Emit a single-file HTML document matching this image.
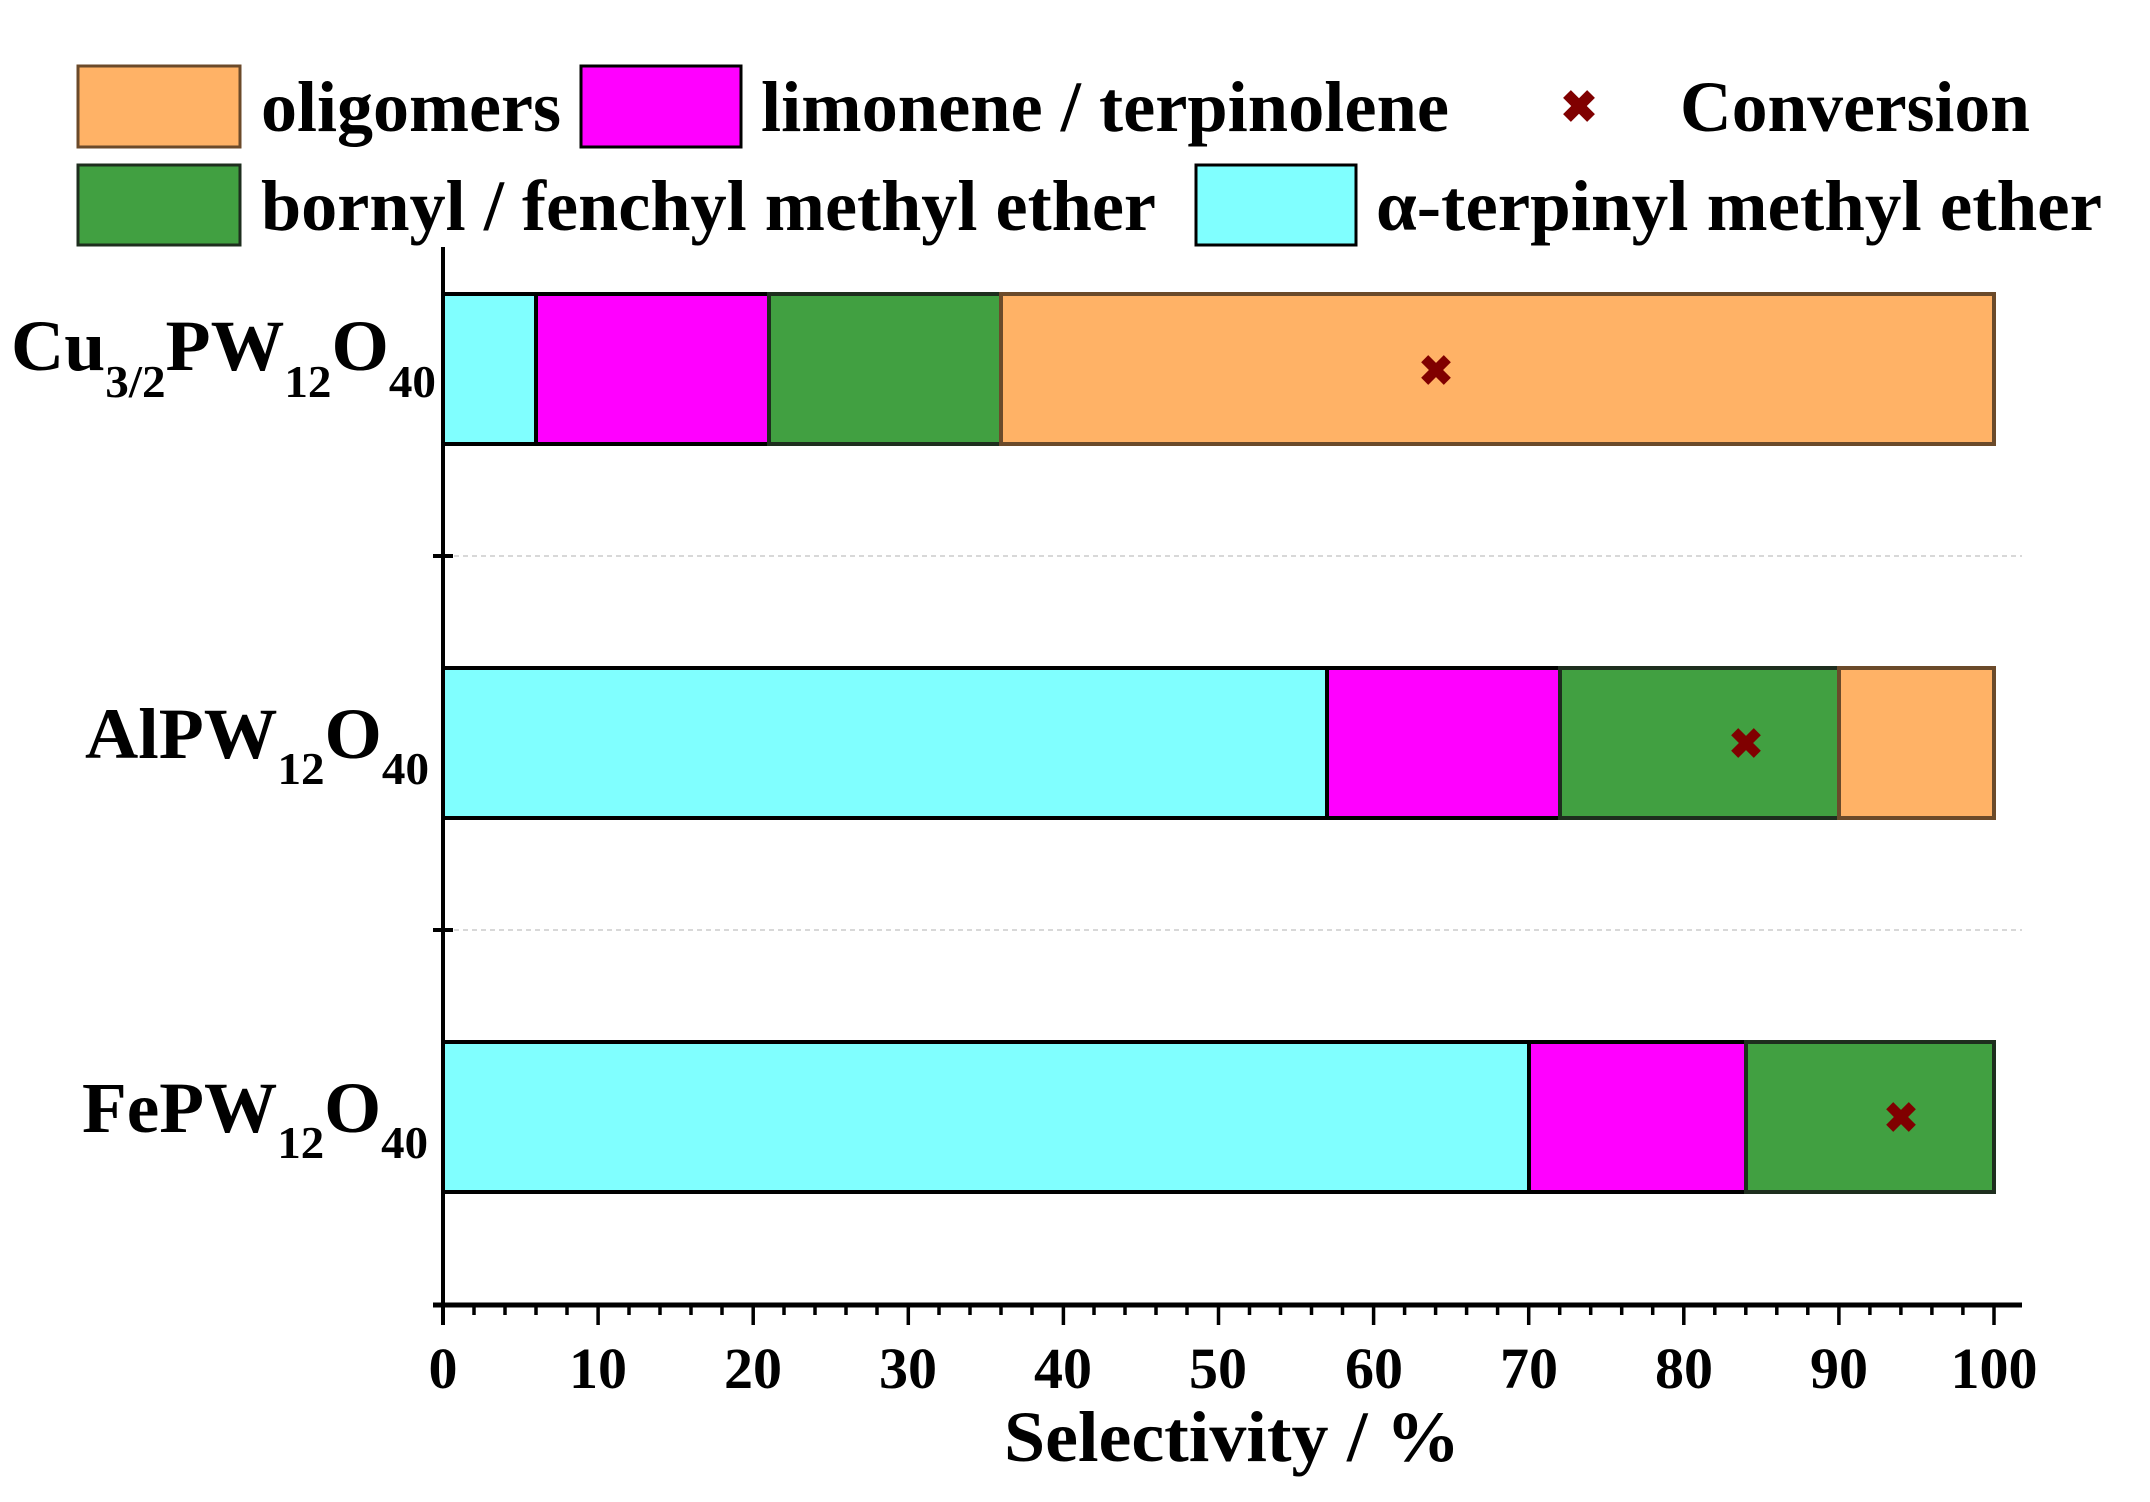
<!DOCTYPE html>
<html><head><meta charset="utf-8"><style>
html,body{margin:0;padding:0;background:#fff}
svg{display:block}
text{font-family:"Liberation Serif",serif;font-weight:bold;fill:#000}
</style></head><body>
<svg width="2150" height="1502" viewBox="0 0 2150 1502" xmlns="http://www.w3.org/2000/svg">
<!-- legend -->
<rect x="78" y="66" width="162" height="81" fill="#ffb266" stroke="#6b4a2a" stroke-width="3"/>
<text x="261" y="131" font-size="72" textLength="300" lengthAdjust="spacingAndGlyphs">oligomers</text>
<rect x="581" y="66" width="160" height="81" fill="#ff00ff" stroke="#000" stroke-width="3"/>
<text x="761" y="131" font-size="72" textLength="688" lengthAdjust="spacingAndGlyphs">limonene / terpinolene</text>
<g transform="translate(1579,106)" fill="#800000"><rect x="-17" y="-5.5" width="34" height="11" transform="rotate(45)"/><rect x="-17" y="-5.5" width="34" height="11" transform="rotate(-45)"/></g>
<text x="1680" y="131" font-size="72" textLength="350" lengthAdjust="spacingAndGlyphs">Conversion</text>
<rect x="78" y="165" width="162" height="80" fill="#41a041" stroke="#1e2e1e" stroke-width="3"/>
<text x="261" y="230" font-size="72" textLength="895" lengthAdjust="spacingAndGlyphs">bornyl / fenchyl methyl ether</text>
<rect x="1196" y="165" width="160" height="80" fill="#80ffff" stroke="#000" stroke-width="3"/>
<text x="1376" y="230" font-size="72" textLength="726" lengthAdjust="spacingAndGlyphs">α-terpinyl methyl ether</text>

<!-- grid separators -->
<line x1="445" y1="556" x2="2022" y2="556" stroke="#ccc" stroke-width="1.5" stroke-dasharray="5,4"/>
<line x1="445" y1="930" x2="2022" y2="930" stroke="#ccc" stroke-width="1.5" stroke-dasharray="5,4"/>

<!-- bars -->
<g stroke-width="4">
<rect x="443" y="294" width="93" height="150" fill="#80ffff" stroke="#000"/>
<rect x="536" y="294" width="233" height="150" fill="#ff00ff" stroke="#000"/>
<rect x="769" y="294" width="232" height="150" fill="#41a041" stroke="#1e2e1e"/>
<rect x="1001" y="294" width="993" height="150" fill="#ffb266" stroke="#6b4a2a"/>

<rect x="443" y="668" width="884" height="150" fill="#80ffff" stroke="#000"/>
<rect x="1327" y="668" width="233" height="150" fill="#ff00ff" stroke="#000"/>
<rect x="1560" y="668" width="279" height="150" fill="#41a041" stroke="#1e2e1e"/>
<rect x="1839" y="668" width="155" height="150" fill="#ffb266" stroke="#6b4a2a"/>

<rect x="443" y="1042" width="1086" height="150" fill="#80ffff" stroke="#000"/>
<rect x="1529" y="1042" width="217" height="150" fill="#ff00ff" stroke="#000"/>
<rect x="1746" y="1042" width="248" height="150" fill="#41a041" stroke="#1e2e1e"/>
</g>

<!-- markers -->
<g fill="#800000">
<g transform="translate(1436,370)"><rect x="-16" y="-5" width="32" height="10" transform="rotate(45)"/><rect x="-16" y="-5" width="32" height="10" transform="rotate(-45)"/></g>
<g transform="translate(1746,743)"><rect x="-16" y="-5" width="32" height="10" transform="rotate(45)"/><rect x="-16" y="-5" width="32" height="10" transform="rotate(-45)"/></g>
<g transform="translate(1901,1117)"><rect x="-16" y="-5" width="32" height="10" transform="rotate(45)"/><rect x="-16" y="-5" width="32" height="10" transform="rotate(-45)"/></g>
</g>

<!-- axes -->
<line x1="443" y1="247" x2="443" y2="1325" stroke="#000" stroke-width="4"/>
<line x1="433" y1="1305" x2="2022" y2="1305" stroke="#000" stroke-width="5"/>
<line x1="433" y1="556" x2="453" y2="556" stroke="#000" stroke-width="4"/>
<line x1="433" y1="930" x2="453" y2="930" stroke="#000" stroke-width="4"/>
<g stroke="#000" stroke-width="3.5">
<path d="M443 1305V1325M598.1 1305V1325M753.2 1305V1325M908.3 1305V1325M1063.4 1305V1325M1218.5 1305V1325M1373.6 1305V1325M1528.7 1305V1325M1683.8 1305V1325M1838.9 1305V1325M1994 1305V1325"/>
<path d="M474 1305V1315M505 1305V1315M536 1305V1315M567 1305V1315M629 1305V1315M660 1305V1315M691 1305V1315M722 1305V1315M784 1305V1315M815 1305V1315M846 1305V1315M877 1305V1315M939 1305V1315M970 1305V1315M1001 1305V1315M1032 1305V1315M1094 1305V1315M1125 1305V1315M1156 1305V1315M1187 1305V1315M1249.5 1305V1315M1280.5 1305V1315M1311.5 1305V1315M1342.5 1305V1315M1404.6 1305V1315M1435.6 1305V1315M1466.6 1305V1315M1497.6 1305V1315M1559.7 1305V1315M1590.7 1305V1315M1621.7 1305V1315M1652.7 1305V1315M1714.8 1305V1315M1745.8 1305V1315M1776.8 1305V1315M1807.8 1305V1315M1869.9 1305V1315M1900.9 1305V1315M1931.9 1305V1315M1962.9 1305V1315"/>
</g>
<g font-size="58" text-anchor="middle">
<text x="443" y="1388">0</text><text x="598" y="1388">10</text><text x="753" y="1388">20</text><text x="908" y="1388">30</text><text x="1063" y="1388">40</text><text x="1218" y="1388">50</text><text x="1374" y="1388">60</text><text x="1529" y="1388">70</text><text x="1684" y="1388">80</text><text x="1839" y="1388">90</text><text x="1994" y="1388">100</text>
</g>
<text x="1004" y="1461" font-size="72" textLength="456" lengthAdjust="spacingAndGlyphs">Selectivity / %</text>

<!-- y labels -->
<text x="11" y="370" font-size="72" textLength="425" lengthAdjust="spacingAndGlyphs">Cu<tspan font-size="46" dy="27">3/2</tspan><tspan dy="-27">PW</tspan><tspan font-size="46" dy="27">12</tspan><tspan dy="-27">O</tspan><tspan font-size="46" dy="27">40</tspan></text>
<text x="85" y="758" font-size="72" textLength="344" lengthAdjust="spacingAndGlyphs">AlPW<tspan font-size="46" dy="26">12</tspan><tspan dy="-26">O</tspan><tspan font-size="46" dy="26">40</tspan></text>
<text x="82" y="1132" font-size="72" textLength="346" lengthAdjust="spacingAndGlyphs">FePW<tspan font-size="46" dy="26">12</tspan><tspan dy="-26">O</tspan><tspan font-size="46" dy="26">40</tspan></text>
</svg>
</body></html>
